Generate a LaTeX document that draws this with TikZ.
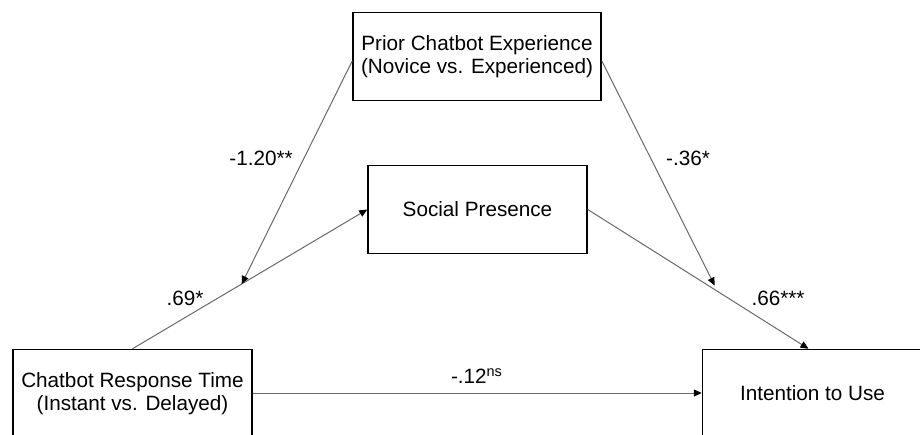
\documentclass[tikz,border=0pt]{standalone}
\usepackage{fontspec}
\setmainfont{Liberation Sans}
\usetikzlibrary{arrows.meta}
\definecolor{linegray}{RGB}{105,105,105}

\begin{document}
\begin{tikzpicture}[x=0.5pt, y=-0.5pt,
        box/.style={draw, line width=0.75pt, align=center, minimum height=44pt, inner sep=0pt,
                font=\fontsize{10.35}{11.5}\selectfont},
        link/.style={draw=linegray, line width=0.5pt, -{Triangle[length=4pt, width=3.5pt, color=black]}},
        coef/.style={font=\fontsize{10.35}{12}\selectfont}]
        \clip (0,0) rectangle (920,434);
        \node[box, minimum width=124pt] (pce) at (477,56.5) {Prior Chatbot Experience\\(Novice vs. Experienced)};
        \node[box, minimum width=109.5pt] (sp) at (477.5,209.5) {Social Presence};
        \node[box, minimum width=119.5pt] (crt) at (132.5,393.5) {Chatbot Response Time\\(Instant vs. Delayed)};
        \node[box, minimum width=110pt] (itu) at (812.5,393.5) {Intention to Use};
        \coordinate (itutop) at ([xshift=-2pt]itu.north);
        \path (crt.north) -- (sp.west) coordinate[pos=0.465] (m1);
        \path (sp.east) -- (itutop) coordinate[pos=0.575] (m2);
        \draw[link] (crt.north) -- (sp.west);
        \draw[link] (sp.east) -- (itutop);
        \draw[link] (crt.east |- 0,393) -- (itu.west |- 0,393);
        \draw[link] (pce.182) -- (m1);
        \draw[link] (pce.-2) -- ([yshift=2pt]m2);
        \node[coef] (a) at (261,158) {-1.20**};
        \node[coef] (b) at (688,158) {-.36*};
        \node[coef] (c) at (185,298) {.69*};
        \node[coef] (d) at (778,298) {.66***};
        \node[coef] (e) at (477,376) {-.12\textsuperscript{ns}};
\end{tikzpicture}
\end{document}
